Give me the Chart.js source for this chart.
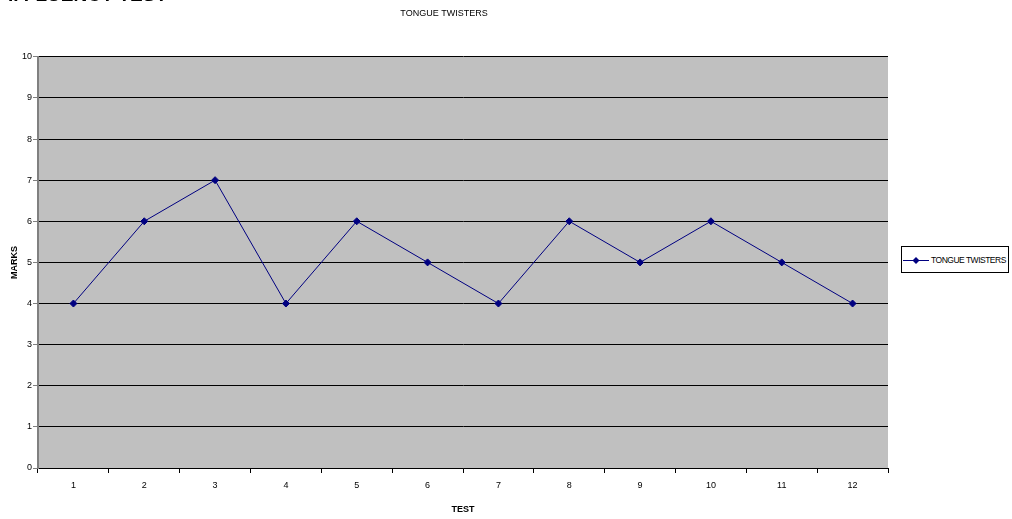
<!DOCTYPE html>
<html>
<head>
<meta charset="utf-8">
<script src="https://cdn.jsdelivr.net/npm/chart.js@4"></script>
<style>
  html, body { margin: 0; padding: 0; background: #fff; }
  #wrap { position: relative; width: 1012px; height: 519px; overflow: hidden; font-family: "Liberation Sans", Arial, sans-serif; }
  #heading { position: absolute; left: 8px; top: -15px; font-size: 19px; line-height: 19px; font-weight: bold; color: #000; white-space: nowrap; }
  #legend { position: absolute; left: 901px; top: 246px; width: 106px; height: 25px; border: 1px solid #000; background: #fff;
            display: flex; align-items: center; font-size: 8.5px; color: #000; letter-spacing: -0.5px; white-space: nowrap; overflow: hidden; }
  #legend canvas { margin: 0 2px 0 1px; flex: none; }
</style>
</head>
<body>
<div id="wrap">
  <canvas id="chart" width="1012" height="519"></canvas>
  <div id="heading">I. FLUENCY TEST</div>
  <div id="legend"></div>
</div>
<script>
  const tests = ['1', '2', '3', '4', '5', '6', '7', '8', '9', '10', '11', '12'];
  const marks = [4, 6, 7, 4, 6, 5, 4, 6, 5, 6, 5, 4];
  const seriesName = 'TONGUE TWISTERS';
  const lineColor = '#000080';

  // fond gris de la zone du graphique
  const plotBg = {
    id: 'plotBg',
    beforeDraw(chart) {
      const a = chart.chartArea, ctx = chart.ctx;
      ctx.save();
      ctx.fillStyle = '#c0c0c0';
      ctx.fillRect(a.left, a.top, a.right - a.left, a.bottom - a.top);
      ctx.restore();
    }
  };

  const chart = new Chart(document.getElementById('chart'), {
    type: 'line',
    data: {
      labels: tests,
      datasets: [{
        label: seriesName,
        data: marks,
        borderColor: lineColor,
        backgroundColor: lineColor,
        borderWidth: 1,
        pointStyle: 'rectRot',
        pointRadius: 3.5,
        pointBorderWidth: 1,
        tension: 0
      }]
    },
    options: {
      responsive: false,
      animation: false,
      layout: { padding: { left: 0, right: 124, top: 0, bottom: 0 } },
      plugins: {
        legend: { display: false },
        tooltip: { enabled: false },
        title: {
          display: true,
          text: seriesName,
          color: '#000',
          font: { family: '"Liberation Sans", Arial, sans-serif', size: 9, weight: 'normal' },
          padding: { top: 8, bottom: 38 }
        }
      },
      scales: {
        x: {
          offset: true,
          grid: { offset: true, drawOnChartArea: false, drawTicks: true, tickLength: 5, color: '#000' },
          border: { color: '#000', width: 1 },
          ticks: { color: '#000', padding: 7, font: { family: '"Liberation Sans", Arial, sans-serif', size: 9 }, maxRotation: 0 },
          title: { display: true, text: 'TEST', color: '#000', padding: { top: 0, bottom: 4 },
                   font: { family: '"Liberation Sans", Arial, sans-serif', size: 9, weight: 'bold' } },
          afterFit(scale) { scale.height = 51; }
        },
        y: {
          min: 0, max: 10,
          grid: { color: '#000', lineWidth: 1, tickLength: 5, tickColor: '#808080' },
          border: { color: '#808080', width: 2 },
          ticks: { stepSize: 1, color: '#000', padding: 1, font: { family: '"Liberation Sans", Arial, sans-serif', size: 9 } },
          title: { display: true, text: 'MARKS', color: '#000', padding: { top: 9, bottom: 0 },
                   font: { family: '"Liberation Sans", Arial, sans-serif', size: 9, weight: 'bold' } },
          afterFit(scale) { scale.width = 38; }
        }
      }
    },
    plugins: [plotBg]
  });

  // légende : trait + losange comme dans l'original
  const legend = document.getElementById('legend');
  const sym = document.createElement('canvas');
  sym.width = 26; sym.height = 10;
  const sc = sym.getContext('2d');
  sc.strokeStyle = lineColor; sc.lineWidth = 1;
  sc.beginPath(); sc.moveTo(0, 5.5); sc.lineTo(26, 5.5); sc.stroke();
  sc.fillStyle = lineColor;
  sc.beginPath(); sc.moveTo(13, 2); sc.lineTo(16.5, 5.5); sc.lineTo(13, 9); sc.lineTo(9.5, 5.5); sc.closePath(); sc.fill();
  legend.appendChild(sym);
  const lt = document.createElement('span');
  lt.textContent = seriesName;
  legend.appendChild(lt);
</script>
</body>
</html>
